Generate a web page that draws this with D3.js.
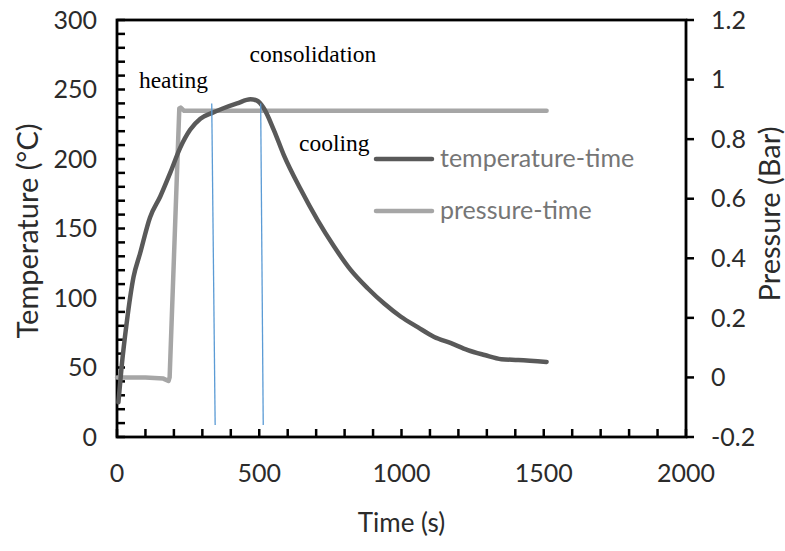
<!DOCTYPE html>
<html>
<head>
<meta charset="utf-8">
<script src="https://cdn.jsdelivr.net/npm/d3@7"></script>
<style>
  body { margin: 0; background: #fff; }
  svg { display: block; }
</style>
</head>
<body>
<div id="chart"></div>
<script>
// temperature-time curve (s, °C)
const tempTime = [5, 16, 34, 58, 81, 116, 152, 187, 222, 257, 293, 333, 374, 422, 469, 492, 516, 551, 586, 646, 705, 763, 822, 881, 939, 998, 1057, 1115, 1174, 1233, 1292, 1351, 1410, 1510]
const tempValues = [25, 50, 82, 115, 132, 158, 173, 190, 208, 221, 229, 233, 236.5, 240, 243, 242, 236.5, 221, 203, 178, 156, 137, 120, 107, 96, 86.5, 79, 72, 67.5, 62.5, 59, 56, 55.4, 54]

// pressure-time curve (s, Bar)
const presTime = [0, 100, 163, 181, 185, 219, 224, 236, 1510]
const presValues = [0, 0, -0.004, -0.012, 0, 0.903, 0.906, 0.895, 0.895]

// phase separators (s, °C)
const separators = [
  [[333, 240], [345, 8.6]],
  [[505, 240], [514, 8.6]]
]

const phaseLabels = [
  { text: "heating", t: 77, T: 251 },
  { text: "consolidation", t: 466, T: 270 },
  { text: "cooling", t: 640, T: 206 }
]

const xTicks = [0, 500, 1000, 1500, 2000]
const yTicks = [0, 50, 100, 150, 200, 250, 300]
const y2Ticks = [-0.2, 0, 0.2, 0.4, 0.6, 0.8, 1, 1.2]

const width = 785
const height = 551
const margin = { top: 20, right: 99, bottom: 114, left: 117 }
const innerW = width - margin.left - margin.right
const innerH = height - margin.top - margin.bottom

const svg = d3.select("#chart")
  .append("svg")
  .attr("width", width)
  .attr("height", height)

const g = svg.append("g")
  .attr("transform", `translate(${margin.left},${margin.top})`)

const x = d3.scaleLinear().domain([0, 2000]).range([0, innerW])
const y = d3.scaleLinear().domain([0, 300]).range([innerH, 0])
const y2 = d3.scaleLinear().domain([-0.2, 1.2]).range([innerH, 0])

const axisFont = "Lato, 'Liberation Sans', sans-serif"
const labelColor = "#2b2b2b"
const tickLen = 8

// frame
g.append("rect")
  .attr("x", 0).attr("y", 0)
  .attr("width", innerW).attr("height", innerH)
  .attr("fill", "none")
  .attr("stroke", "#000")
  .attr("stroke-width", 2.8)

// minor ticks: inside on left (every 10) and bottom (every 100)
g.append("g").selectAll("line")
  .data(y.ticks(30))
  .join("line")
  .attr("x1", 0).attr("x2", tickLen)
  .attr("y1", d => y(d)).attr("y2", d => y(d))
  .attr("stroke", "#000")
  .attr("stroke-width", 2.5)

g.append("g").selectAll("line")
  .data(x.ticks(20))
  .join("line")
  .attr("x1", d => x(d)).attr("x2", d => x(d))
  .attr("y1", innerH).attr("y2", innerH - tickLen)
  .attr("stroke", "#000")
  .attr("stroke-width", 2.5)

// right axis ticks point outward
g.append("g").selectAll("line")
  .data(y2Ticks)
  .join("line")
  .attr("x1", innerW).attr("x2", innerW + tickLen)
  .attr("y1", d => y2(d)).attr("y2", d => y2(d))
  .attr("stroke", "#000")
  .attr("stroke-width", 2.5)

// tick labels
g.selectAll(".ylab").data(yTicks).join("text")
  .attr("x", -20)
  .attr("y", d => y(d))
  .attr("dy", "0.35em")
  .attr("text-anchor", "end")
  .attr("font-family", axisFont)
  .attr("font-size", "25px")
  .attr("fill", labelColor)
  .text(d => d)

g.selectAll(".y2lab").data(y2Ticks).join("text")
  .attr("x", innerW + 25)
  .attr("y", d => y2(d))
  .attr("dy", "0.35em")
  .attr("text-anchor", "start")
  .attr("font-family", axisFont)
  .attr("font-size", "25px")
  .attr("fill", labelColor)
  .text(d => String(+d.toFixed(1)))

g.selectAll(".xlab").data(xTicks).join("text")
  .attr("x", d => x(d))
  .attr("y", innerH + 45)
  .attr("text-anchor", "middle")
  .attr("font-family", axisFont)
  .attr("font-size", "25px")
  .attr("fill", labelColor)
  .text(d => d)

// axis titles
svg.append("text")
  .attr("transform", `translate(${margin.left + innerW / 2},${height - 19})`)
  .attr("text-anchor", "middle")
  .attr("font-family", axisFont)
  .attr("font-size", "26px")
  .attr("fill", labelColor)
  .text("Time (s)")

svg.append("text")
  .attr("transform", `translate(38,231) rotate(-90)`)
  .attr("text-anchor", "middle")
  .attr("font-family", axisFont)
  .attr("font-size", "29px")
  .attr("fill", labelColor)
  .text("Temperature (°C)")

svg.append("text")
  .attr("transform", `translate(780,214) rotate(-90)`)
  .attr("text-anchor", "middle")
  .attr("font-family", axisFont)
  .attr("font-size", "29px")
  .attr("fill", labelColor)
  .text("Pressure (Bar)")

// series
const tempLine = d3.line()
  .x(d => x(d[0]))
  .y(d => y(d[1]))
  .curve(d3.curveMonotoneX)

const presLine = d3.line()
  .x(d => x(d[0]))
  .y(d => y2(d[1]))

g.append("path")
  .datum(presTime.map((t, i) => [t, presValues[i]]))
  .attr("d", presLine)
  .attr("fill", "none")
  .attr("stroke", "#a6a6a6")
  .attr("stroke-width", 4.5)
  .attr("stroke-linejoin", "round")
  .attr("stroke-linecap", "round")

g.append("path")
  .datum(tempTime.map((t, i) => [t, tempValues[i]]))
  .attr("d", tempLine)
  .attr("fill", "none")
  .attr("stroke", "#595959")
  .attr("stroke-width", 4.5)
  .attr("stroke-linejoin", "round")
  .attr("stroke-linecap", "round")

// phase separators
separators.forEach(s => {
  g.append("line")
    .attr("x1", x(s[0][0])).attr("y1", y(s[0][1]))
    .attr("x2", x(s[1][0])).attr("y2", y(s[1][1]))
    .attr("stroke", "#5b9bd5")
    .attr("stroke-width", 1.3)
})

// phase labels
g.selectAll(".phase").data(phaseLabels).join("text")
  .attr("x", d => x(d.t))
  .attr("y", d => y(d.T))
  .attr("font-family", "'Liberation Serif', 'Times New Roman', serif")
  .attr("font-size", "23.5px")
  .attr("fill", "#000")
  .text(d => d.text)

// legend
const legend = [
  { name: "temperature-time", color: "#595959" },
  { name: "pressure-time", color: "#a6a6a6" }
]
const lg = svg.append("g").attr("transform", "translate(376,159)")
legend.forEach((d, i) => {
  const row = lg.append("g").attr("transform", `translate(0,${i * 52})`)
  row.append("line")
    .attr("x1", 0).attr("x2", 56)
    .attr("stroke", d.color)
    .attr("stroke-width", 4.5)
    .attr("stroke-linecap", "round")
  row.append("text")
    .attr("x", 64)
    .attr("y", 0)
    .attr("dy", "0.32em")
    .attr("font-family", axisFont)
    .attr("font-size", "25px")
    .attr("fill", "#767676")
    .text(d.name)
})
</script>
</body>
</html>
